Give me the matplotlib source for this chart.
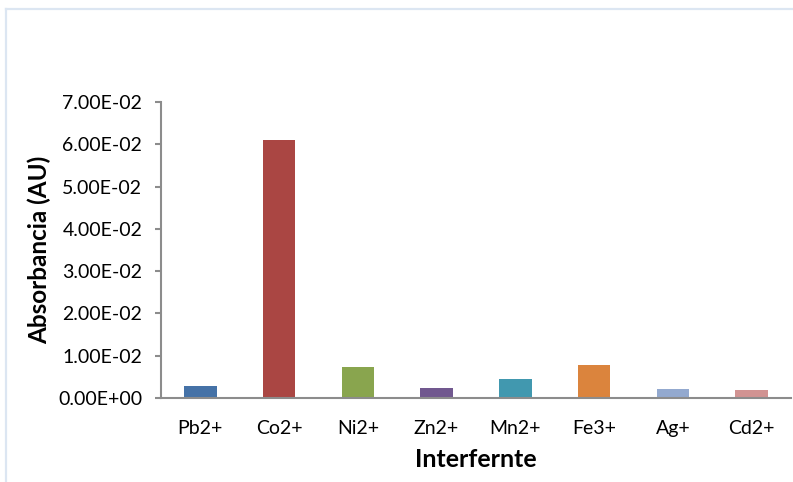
import matplotlib
matplotlib.use("Agg")
import matplotlib.pyplot as plt
from matplotlib.lines import Line2D
from matplotlib.ticker import FuncFormatter

# Interfering ions and measured absorbance
ions = ["Pb2+", "Co2+", "Ni2+", "Zn2+", "Mn2+", "Fe3+", "Ag+", "Cd2+"]
absorbance = [0.0028, 0.0610, 0.0073, 0.0023, 0.0044, 0.0077, 0.0021, 0.0018]
bar_colors = ["#4572A7", "#AA4643", "#89A54E", "#71588F",
              "#4198AF", "#DB843D", "#93A9CF", "#D19392"]
y_ticks = [0.0, 0.01, 0.02, 0.03, 0.04, 0.05, 0.06, 0.07]

plt.rcParams["font.family"] = ["Lato", "DejaVu Sans"]

fig = plt.figure(figsize=(7.93, 4.82), dpi=100)
fig.patch.set_facecolor("white")

# light chart-area border (left and top edges)
border = "#DCE6F2"
fig.add_artist(Line2D([6 / 793, 6 / 793], [0, 1 - 9 / 482], transform=fig.transFigure,
                      color=border, lw=1.6))
fig.add_artist(Line2D([6 / 793, 1], [1 - 9 / 482, 1 - 9 / 482], transform=fig.transFigure,
                      color=border, lw=1.6))

ax = fig.add_axes([161 / 793, 1 - 398 / 482, (791 - 161) / 793, (398 - 102) / 482])

x = list(range(len(ions)))
ax.bar(x, absorbance, width=0.41, color=bar_colors, zorder=2)

ax.set_xlim(-0.5, len(ions) - 0.5)
ax.set_ylim(0, 0.07)
ax.set_yticks(y_ticks)
ax.yaxis.set_major_formatter(FuncFormatter(lambda v, p: "%.2E" % v))
ax.set_xticks(x)
ax.set_xticklabels(ions)

for side in ("top", "right"):
    ax.spines[side].set_visible(False)
for side in ("left", "bottom"):
    ax.spines[side].set_color("#8C8C8C")
    ax.spines[side].set_linewidth(1.5)

ax.tick_params(axis="y", length=4.5, width=1.5, color="#8C8C8C", pad=9,
               labelsize=14, labelcolor="black")
ax.tick_params(axis="x", length=0, pad=16, labelsize=14, labelcolor="black")

ax.set_ylabel("Absorbancia (AU)", fontsize=17.5, fontweight="bold", labelpad=5)
ax.set_xlabel("Interfernte", fontsize=18, fontweight="bold", labelpad=8)

fig.savefig("out.png", dpi=100, facecolor="white")
